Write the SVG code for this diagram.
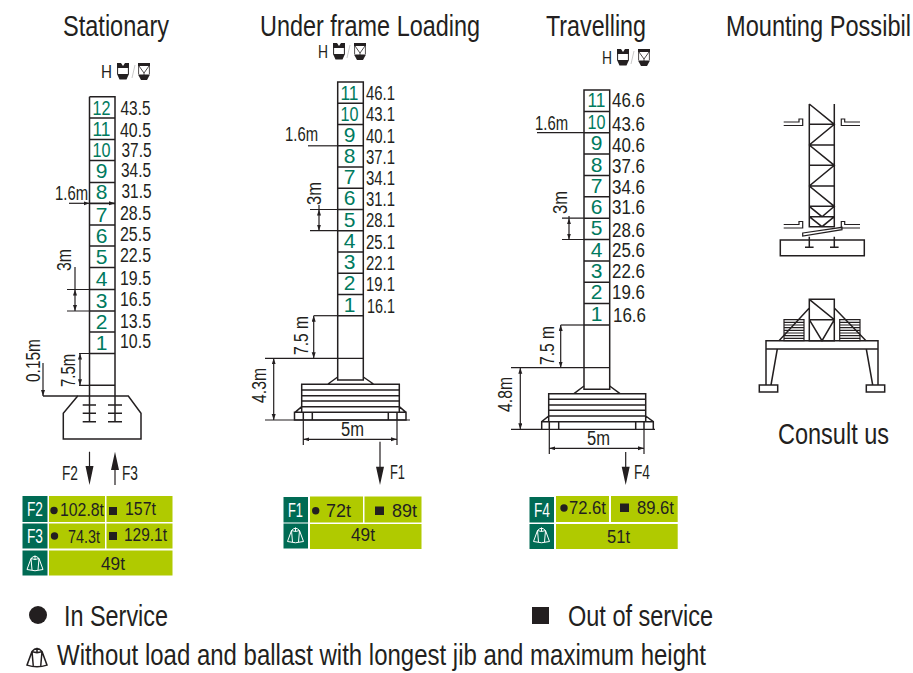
<svg xmlns="http://www.w3.org/2000/svg" xmlns:xlink="http://www.w3.org/1999/xlink" width="913" height="673" viewBox="0 0 913 673">
<style>
text{font-family:"Liberation Sans Narrow","Liberation Sans",Arial,sans-serif;fill:#231f20}
.t{font-size:29px}.l{font-size:20px}.n{font-size:21px;fill:#007a5e;text-anchor:middle}.h{font-size:19px}.c{font-size:20px}.q{font-size:19px}.w{fill:#fff;font-size:21px}.s{font-size:29px}
.k{fill:none;stroke:#231f20;stroke-width:1.5}.m{fill:#fff;stroke:#231f20;stroke-width:1.5}.d{fill:#231f20}.g{fill:#b0ca00}.e{fill:#006b54}
.a{fill:none;stroke:#231f20;stroke-width:1.2}
.i{fill:none;stroke:#fff;stroke-width:1}.j{fill:none;stroke:#231f20;stroke-width:1.2}
</style>
<defs>
<marker id="tip" markerWidth="6" markerHeight="6" refX="6" refY="2" orient="auto-start-reverse" markerUnits="userSpaceOnUse"><path d="M0 0L6 2L0 4Z" fill="#231f20"/></marker>
<g id="hook"><path d="M0 0H4L6 3L8 0H12V5H0Z" fill="#231f20"/><path d="M.6 5V11M11.400 5V11" stroke="#231f20" fill="none"/><path d="M0 11H12L9.500 16.500H2.500Z" fill="#231f20"/></g>
<g id="hook2"><path d="M0 0H12V3H0Z" fill="#231f20"/><path d="M.6 3V11M11.400 3V11M1 3L6 10L11 3M6 10V12" stroke="#231f20" stroke-width=".8" fill="none"/><path d="M0 11.500H12L9 17H3Z" fill="#231f20"/></g>
<g id="dome"><path d="M-8 6.500L-4 -4.500Q0 -9 4 -4.500L8 6.500Q0 9 -8 6.500ZM-4 -4.500L-3 7M4 -4.500L3 7M-4 -4.500Q0 -2.500 4 -4.500M0 -7.500V-3.500"/></g>
</defs>

<g id="titles">
<text class="t" x="63" y="36" textLength="106" lengthAdjust="spacingAndGlyphs">Stationary</text>
<text class="t" x="260" y="36" textLength="220" lengthAdjust="spacingAndGlyphs">Under frame Loading</text>
<text class="t" x="546" y="36" textLength="100" lengthAdjust="spacingAndGlyphs">Travelling</text>
<text class="t" x="726" y="36" textLength="185" lengthAdjust="spacingAndGlyphs">Mounting Possibil</text>
</g>

<g id="stationary">
<text class="h" x="101" y="78" textLength="11" lengthAdjust="spacingAndGlyphs">H</text>
<use xlink:href="#hook" href="#hook" x="117" y="63"/><path d="M135 65L132 78" stroke="#bbb" stroke-width=".8"/><use xlink:href="#hook2" href="#hook2" x="138" y="63"/>
<path class="k" d="M89.5 96.7H115V421.7M89.5 96.7V421.7M89.5 118H115M89.5 139.5H115M89.5 160.5H115M89.5 182.5H115M89.5 203.5H115M89.5 225H115M89.5 246H115M89.5 267.5H115M89.5 289.5H115M89.5 311H115M89.5 332H115M89.5 353.5H115M89.5 385.3H115"/>
<g class="nums">
<text class="n" x="101.5" y="114.500" textLength="18" lengthAdjust="spacingAndGlyphs">12</text>
<text class="n" x="101.5" y="136" textLength="18" lengthAdjust="spacingAndGlyphs">11</text>
<text class="n" x="101.5" y="156.500" textLength="18" lengthAdjust="spacingAndGlyphs">10</text>
<text class="n" x="101.5" y="177.500">9</text><text class="n" x="101.5" y="199">8</text><text class="n" x="101.5" y="221.500">7</text><text class="n" x="101.5" y="242.500">6</text><text class="n" x="101.5" y="264">5</text><text class="n" x="101.5" y="285.500">4</text><text class="n" x="101.500" y="307.500">3</text><text class="n" x="101.5" y="328.500">2</text><text class="n" x="101.5" y="349.500">1</text>
<text class="l" x="120.500" y="115" textLength="30" lengthAdjust="spacingAndGlyphs">43.5</text>
<text class="l" x="120" y="137" textLength="31" lengthAdjust="spacingAndGlyphs">40.5</text>
<text class="l" x="121.500" y="156.500" textLength="30" lengthAdjust="spacingAndGlyphs">37.5</text>
<text class="l" x="121" y="177" textLength="30" lengthAdjust="spacingAndGlyphs">34.5</text>
<text class="l" x="121.500" y="198" textLength="30" lengthAdjust="spacingAndGlyphs">31.5</text>
<text class="l" x="120" y="220" textLength="31" lengthAdjust="spacingAndGlyphs">28.5</text>
<text class="l" x="120" y="241" textLength="31" lengthAdjust="spacingAndGlyphs">25.5</text>
<text class="l" x="120" y="262" textLength="31" lengthAdjust="spacingAndGlyphs">22.5</text>
<text class="l" x="120" y="285" textLength="31" lengthAdjust="spacingAndGlyphs">19.5</text>
<text class="l" x="120" y="306" textLength="31" lengthAdjust="spacingAndGlyphs">16.5</text>
<text class="l" x="120" y="328" textLength="31" lengthAdjust="spacingAndGlyphs">13.5</text>
<text class="l" x="120" y="348" textLength="31" lengthAdjust="spacingAndGlyphs">10.5</text>
</g>
<path class="k" d="M77.700 396H128.300L141 413.300V439H63.300V413.300ZM82.700 405H96M82.700 413.300H96M82.700 421.700H96M108 405H122M108 413.300H122M108 421.700H122"/>
<path class="k" d="M43 396H77.700"/>
<text class="c" x="55" y="200" textLength="33" lengthAdjust="spacingAndGlyphs">1.6m</text>
<text class="c" transform="translate(70.500 271) rotate(-90)" textLength="22" lengthAdjust="spacingAndGlyphs">3m</text>
<text class="c" transform="translate(40 382) rotate(-90)" textLength="43" lengthAdjust="spacingAndGlyphs">0.15m</text>
<text class="c" transform="translate(75 387) rotate(-90)" textLength="33" lengthAdjust="spacingAndGlyphs">7.5m</text>
<text class="c" x="62" y="480" textLength="16" lengthAdjust="spacingAndGlyphs">F2</text>
<text class="c" x="122" y="480" textLength="16" lengthAdjust="spacingAndGlyphs">F3</text>
</g>

<g id="underframe">
<text class="h" x="318" y="58" textLength="10" lengthAdjust="spacingAndGlyphs">H</text>
<use xlink:href="#hook" href="#hook" x="333" y="43"/><path d="M350 45L347 58" stroke="#bbb" stroke-width=".8"/><use xlink:href="#hook2" href="#hook2" x="354" y="43"/>
<path class="k" d="M337.700 82H363.300V380H337.700ZM337.700 103.200H363.300M337.700 124.500H363.300M337.700 145.800H363.300M337.700 167H363.300M337.700 188.200H363.300M337.700 209.500H363.300M337.700 230.700H363.300M337.700 252H363.300M337.700 273.200H363.300M337.700 294.500H363.300M337.700 315.700H363.300"/>
<path class="k" d="M337.700 377L328 384M363.300 377L373.500 384M301.700 384.300H399.300V412.300H301.700ZM301.700 390H399.300M301.700 395.700H399.300M301.700 401H399.300M301.700 406.700H399.300M301.700 406.700L295 412.300M399.300 406.700L406 412.300M294.500 412.300H406V420H294.500ZM303.300 412.300V420M312.300 412.300V420M388.300 412.300V420M397 412.300V420"/>
<text class="n" x="349.500" y="100" textLength="18" lengthAdjust="spacingAndGlyphs">11</text>
<text class="n" x="349.500" y="121" textLength="18" lengthAdjust="spacingAndGlyphs">10</text>
<text class="n" x="349.500" y="142">9</text><text class="n" x="349.500" y="163">8</text><text class="n" x="349.500" y="184">7</text><text class="n" x="349.500" y="205">6</text><text class="n" x="349.500" y="227">5</text><text class="n" x="349.500" y="248">4</text><text class="n" x="349.500" y="269">3</text><text class="n" x="349.500" y="290">2</text><text class="n" x="349.500" y="312">1</text>
<text class="l" x="366" y="100" textLength="29" lengthAdjust="spacingAndGlyphs">46.1</text>
<text class="l" x="366" y="121" textLength="29" lengthAdjust="spacingAndGlyphs">43.1</text>
<text class="l" x="366" y="143" textLength="29" lengthAdjust="spacingAndGlyphs">40.1</text>
<text class="l" x="366" y="164" textLength="29" lengthAdjust="spacingAndGlyphs">37.1</text>
<text class="l" x="366" y="185" textLength="29" lengthAdjust="spacingAndGlyphs">34.1</text>
<text class="l" x="366" y="206" textLength="29" lengthAdjust="spacingAndGlyphs">31.1</text>
<text class="l" x="366" y="227" textLength="29" lengthAdjust="spacingAndGlyphs">28.1</text>
<text class="l" x="366" y="249" textLength="29" lengthAdjust="spacingAndGlyphs">25.1</text>
<text class="l" x="366" y="270" textLength="29" lengthAdjust="spacingAndGlyphs">22.1</text>
<text class="l" x="366" y="291" textLength="29" lengthAdjust="spacingAndGlyphs">19.1</text>
<text class="l" x="367" y="313" textLength="28" lengthAdjust="spacingAndGlyphs">16.1</text>
<text class="c" x="285" y="141" textLength="33" lengthAdjust="spacingAndGlyphs">1.6m</text>
<text class="c" transform="translate(321 205) rotate(-90)" textLength="23" lengthAdjust="spacingAndGlyphs">3m</text>
<text class="c" transform="translate(308 355) rotate(-90)" textLength="39" lengthAdjust="spacingAndGlyphs">7.5 m</text>
<text class="c" transform="translate(266 403) rotate(-90)" textLength="35" lengthAdjust="spacingAndGlyphs">4.3m</text>
<text class="c" x="341" y="436" textLength="23" lengthAdjust="spacingAndGlyphs">5m</text>
<text class="c" x="390" y="479" textLength="15" lengthAdjust="spacingAndGlyphs">F1</text>
</g>

<g id="travelling">
<text class="h" x="602" y="64" textLength="10" lengthAdjust="spacingAndGlyphs">H</text>
<use xlink:href="#hook" href="#hook" x="617" y="49"/><path d="M634 51L631 64" stroke="#bbb" stroke-width=".8"/><use xlink:href="#hook2" href="#hook2" x="638" y="49"/>
<path class="k" d="M584 90H609.700V389.300H584ZM584 111.400H609.700M584 132.700H609.700M584 154H609.700M584 175.500H609.700M584 196.800H609.700M584 218.200H609.700M584 239.500H609.700M584 260.900H609.700M584 282.200H609.700M584 303.600H609.700M584 325H609.700"/>
<path class="k" d="M584 386L574 393.700M609.700 386L620 393.700M548.700 393.700H645.700V421.700H548.700ZM548.700 399.300H645.700M548.700 405H645.700M548.700 410.300H645.700M548.700 416H645.700M548.700 416L541.700 421.700V429M645.700 416L653.300 421.700V429M541.700 421.700H653.300M549.300 421.700V429M558.700 421.700V429M635.700 421.700V429M644 421.700V429"/>
<text class="n" x="596.500" y="107" textLength="18" lengthAdjust="spacingAndGlyphs">11</text>
<text class="n" x="596.500" y="129" textLength="18" lengthAdjust="spacingAndGlyphs">10</text>
<text class="n" x="596.500" y="150">9</text><text class="n" x="596.500" y="172">8</text><text class="n" x="596.500" y="193">7</text><text class="n" x="596.500" y="214">6</text><text class="n" x="596.500" y="235">5</text><text class="n" x="596.500" y="257">4</text><text class="n" x="596.500" y="278">3</text><text class="n" x="596.500" y="299">2</text><text class="n" x="596.500" y="321">1</text>
<text class="l" x="612" y="107" textLength="33" lengthAdjust="spacingAndGlyphs">46.6</text>
<text class="l" x="612" y="131" textLength="33" lengthAdjust="spacingAndGlyphs">43.6</text>
<text class="l" x="612" y="152" textLength="33" lengthAdjust="spacingAndGlyphs">40.6</text>
<text class="l" x="612" y="173" textLength="33" lengthAdjust="spacingAndGlyphs">37.6</text>
<text class="l" x="612" y="194" textLength="33" lengthAdjust="spacingAndGlyphs">34.6</text>
<text class="l" x="612" y="214" textLength="33" lengthAdjust="spacingAndGlyphs">31.6</text>
<text class="l" x="612" y="237" textLength="33" lengthAdjust="spacingAndGlyphs">28.6</text>
<text class="l" x="612" y="257" textLength="33" lengthAdjust="spacingAndGlyphs">25.6</text>
<text class="l" x="612" y="278" textLength="33" lengthAdjust="spacingAndGlyphs">22.6</text>
<text class="l" x="612" y="299" textLength="33" lengthAdjust="spacingAndGlyphs">19.6</text>
<text class="l" x="613" y="322" textLength="33" lengthAdjust="spacingAndGlyphs">16.6</text>
<text class="c" x="535" y="130" textLength="33" lengthAdjust="spacingAndGlyphs">1.6m</text>
<text class="c" transform="translate(567 214) rotate(-90)" textLength="23" lengthAdjust="spacingAndGlyphs">3m</text>
<text class="c" transform="translate(554 365) rotate(-90)" textLength="39" lengthAdjust="spacingAndGlyphs">7.5 m</text>
<text class="c" transform="translate(512 412) rotate(-90)" textLength="35" lengthAdjust="spacingAndGlyphs">4.8m</text>
<text class="c" x="587" y="445" textLength="23" lengthAdjust="spacingAndGlyphs">5m</text>
<text class="c" x="634" y="479" textLength="16" lengthAdjust="spacingAndGlyphs">F4</text>
</g>

<g id="connectors">
<path class="a" d="M69 203.300H89.500" marker-end="url(#tip)"/><path class="a" d="M89.500 203.300H115" marker-end="url(#tip)"/>
<path class="a" d="M67 289.500H89.500M67 311H89.500"/><path class="a" d="M75 267V289.500"/><path class="a" d="M75 289.500V311" marker-start="url(#tip)" marker-end="url(#tip)"/>
<path class="a" d="M43 363V396" marker-end="url(#tip)"/>
<path class="a" d="M80 353.500V385.300" marker-start="url(#tip)" marker-end="url(#tip)"/><path class="a" d="M79 353.500H89.500M79 385.300H89.500"/>
<path class="a" d="M308 145.800H337.700"/>
<path class="a" d="M310 209.500H337.700M310 230.700H337.700"/><path class="a" d="M319 205V209.500"/><path class="a" d="M319 209.500V230.700" marker-start="url(#tip)" marker-end="url(#tip)"/>
<path class="a" d="M313.700 315.700H337.700"/><path class="a" d="M313.700 315.700V358.300" marker-start="url(#tip)" marker-end="url(#tip)"/>
<path class="a" d="M265 358.300H363.300M265 420H410"/><path class="a" d="M273.700 358.300V420" marker-start="url(#tip)" marker-end="url(#tip)"/>
<path class="a" d="M303.300 420V445M397 420V445"/><path class="a" d="M303.300 439.300H397" marker-start="url(#tip)" marker-end="url(#tip)"/>
<path class="a" d="M537 132.700H584"/>
<path class="a" d="M562 218.200H584M562 239.500H584"/><path class="a" d="M569 216V218.200"/><path class="a" d="M569 218.200V239.500" marker-start="url(#tip)" marker-end="url(#tip)"/>
<path class="a" d="M560.700 325H584"/><path class="a" d="M560.700 325V367.700" marker-start="url(#tip)" marker-end="url(#tip)"/>
<path class="a" d="M511 367.700H609.700M511 429.300H655"/><path class="a" d="M520.300 367.700V429.300" marker-start="url(#tip)" marker-end="url(#tip)"/>
<path class="a" d="M549.300 429.300V454M644 429.300V454"/><path class="a" d="M549.300 448.300H644" marker-start="url(#tip)" marker-end="url(#tip)"/>
<path class="a" d="M89.500 451.700V470M115 485V470M380 441.700V470M625.700 452V470"/>
<path class="d" d="M85.500 466H93.500L89.500 485ZM111 470H119L115 451.700ZM376 466.700H384L380 485ZM621.700 466.700H629.700L625.700 485Z"/>
</g>

<g id="table-stationary">
<rect x="22" y="495" width="151" height="81" fill="#fff"/>
<rect class="e" x="22.500" y="496" width="25" height="26"/><rect class="e" x="22.500" y="523.500" width="25" height="25"/><rect class="e" x="22.500" y="550.500" width="25" height="25"/>
<rect class="g" x="49" y="496" width="56" height="26"/><rect class="g" x="106.500" y="496" width="66" height="26"/>
<rect class="g" x="49" y="523.500" width="56" height="25"/><rect class="g" x="106.500" y="523.500" width="66" height="25"/>
<rect class="g" x="49" y="550.500" width="123.500" height="25"/>
<text class="w" x="27" y="516" textLength="16" lengthAdjust="spacingAndGlyphs">F2</text><text class="w" x="27" y="543" textLength="16" lengthAdjust="spacingAndGlyphs">F3</text>
<use xlink:href="#dome" href="#dome" class="i" x="35" y="563"/>
<circle class="d" cx="54" cy="510.500" r="3.700"/><rect class="d" x="109" y="507" width="8" height="8"/><circle class="d" cx="54.500" cy="536" r="3.700"/><rect class="d" x="109" y="532" width="8" height="8"/>
<text class="q" x="60" y="516" textLength="44" lengthAdjust="spacingAndGlyphs">102.8t</text>
<text class="q" x="125" y="515" textLength="31" lengthAdjust="spacingAndGlyphs">157t</text>
<text class="q" x="68" y="543" textLength="32" lengthAdjust="spacingAndGlyphs">74.3t</text>
<text class="q" x="124" y="541" textLength="43" lengthAdjust="spacingAndGlyphs">129.1t</text>
<text class="q" x="101" y="570" textLength="24" lengthAdjust="spacingAndGlyphs">49t</text>
</g>

<g id="table-underframe">
<rect class="e" x="283.500" y="497" width="24.500" height="25.500"/><rect class="e" x="283.500" y="523.500" width="24.500" height="25"/>
<rect class="g" x="310" y="496.500" width="53" height="26"/><rect class="g" x="364.500" y="496.500" width="57" height="26"/><rect class="g" x="310" y="524" width="111.500" height="25"/>
<text class="w" x="288" y="517" textLength="15" lengthAdjust="spacingAndGlyphs">F1</text>
<use xlink:href="#dome" href="#dome" class="i" x="295.500" y="535"/>
<circle class="d" cx="315.700" cy="510.700" r="3.700"/><rect class="d" x="375" y="506.500" width="9" height="8.500"/>
<text class="q" x="326" y="517" textLength="25" lengthAdjust="spacingAndGlyphs">72t</text>
<text class="q" x="392" y="517" textLength="25" lengthAdjust="spacingAndGlyphs">89t</text>
<text class="q" x="351" y="541" textLength="24" lengthAdjust="spacingAndGlyphs">49t</text>
</g>

<g id="table-travelling">
<rect class="e" x="529.500" y="497" width="24.500" height="25.500"/><rect class="e" x="529.500" y="524" width="24.500" height="25"/>
<rect class="g" x="556" y="496" width="53" height="26"/><rect class="g" x="611" y="496" width="66.700" height="26"/><rect class="g" x="556" y="524" width="121.700" height="25"/>
<text class="w" x="534" y="517" textLength="16" lengthAdjust="spacingAndGlyphs">F4</text>
<use xlink:href="#dome" href="#dome" class="i" x="541.500" y="535"/>
<circle class="d" cx="564" cy="508" r="3.700"/><rect class="d" x="620" y="503.500" width="9" height="8.500"/>
<text class="q" x="569" y="514" textLength="37" lengthAdjust="spacingAndGlyphs">72.6t</text>
<text class="q" x="637" y="514" textLength="37" lengthAdjust="spacingAndGlyphs">89.6t</text>
<text class="q" x="607" y="543" textLength="23" lengthAdjust="spacingAndGlyphs">51t</text>
</g>

<g id="mount-top">
<path class="k" d="M809.300 104V226.700H834.300V104M809.300 124.300H834.300M809.300 145H834.300M809.300 165.300H834.300M809.300 186H834.300M809.300 206.300H834.300M809.300 216.700H834.300M809.300 104L834.300 124.300L809.300 145L834.300 165.300L809.300 186L834.300 206.300L822 216.700L809.300 206.300M809.300 216.700L822 226.700L834.300 216.700"/>
<path class="j" d="M783.700 122H799V119H802.700V125.500H783.700M860 122H844.700V119H841.300V125.500H860M783.700 224.500H799V221.500H802.700V228H783.700M860 224.500H844.700V221.500H841.300V228H860"/>
<path class="j" d="M802.700 233L842 227.300V229.700L802.700 236Z"/>
<path class="k" d="M780.300 240H864.300V255.700H780.300ZM809.300 236.700V247.300M805 247.300H813.600M834.300 236.700V247.300M830 247.300H838.600"/>
</g>

<g id="mount-bottom">
<path class="j" d="M784 319.700H804V340.700H784ZM784 322.400H804M784 325H804M784 327.700H804M784 330.400H804M784 333H804M784 335.700H804M784 338.400H804M839.700 319.700H860V340.700H839.700ZM839.700 322.400H860M839.700 325H860M839.700 327.700H860M839.700 330.400H860M839.700 333H860M839.700 335.700H860M839.700 338.400H860"/>
<path class="k" d="M809.300 299.300H834.300V340.700H809.300ZM809.300 319.700H834.300M809.300 299.300L834.300 319.700L822 340.700L809.300 319.700M809.300 308L779 340.700M834.300 308L866 340.700"/>
<path class="k" d="M766 340.700H878V349H766ZM766 349V385M777.300 349L771 385M878 349V385M866.300 349L872.700 385M759.300 385H777.700V392H759.300ZM866.300 385H884.700V392H866.300Z"/>
<text class="s" x="778" y="444" textLength="111" lengthAdjust="spacingAndGlyphs">Consult us</text>
</g>

<g id="legend">
<circle class="d" cx="38" cy="615" r="9"/>
<text class="s" x="64" y="626" textLength="104" lengthAdjust="spacingAndGlyphs">In Service</text>
<rect class="d" x="532" y="607" width="17" height="17"/>
<text class="s" x="568" y="626" textLength="145" lengthAdjust="spacingAndGlyphs">Out of service</text>
<use xlink:href="#dome" href="#dome" class="j" transform="translate(37 657) scale(1.250)"/>
<text class="s" x="57" y="665" textLength="649" lengthAdjust="spacingAndGlyphs">Without load and ballast with longest jib and maximum height</text>
</g>
</svg>
